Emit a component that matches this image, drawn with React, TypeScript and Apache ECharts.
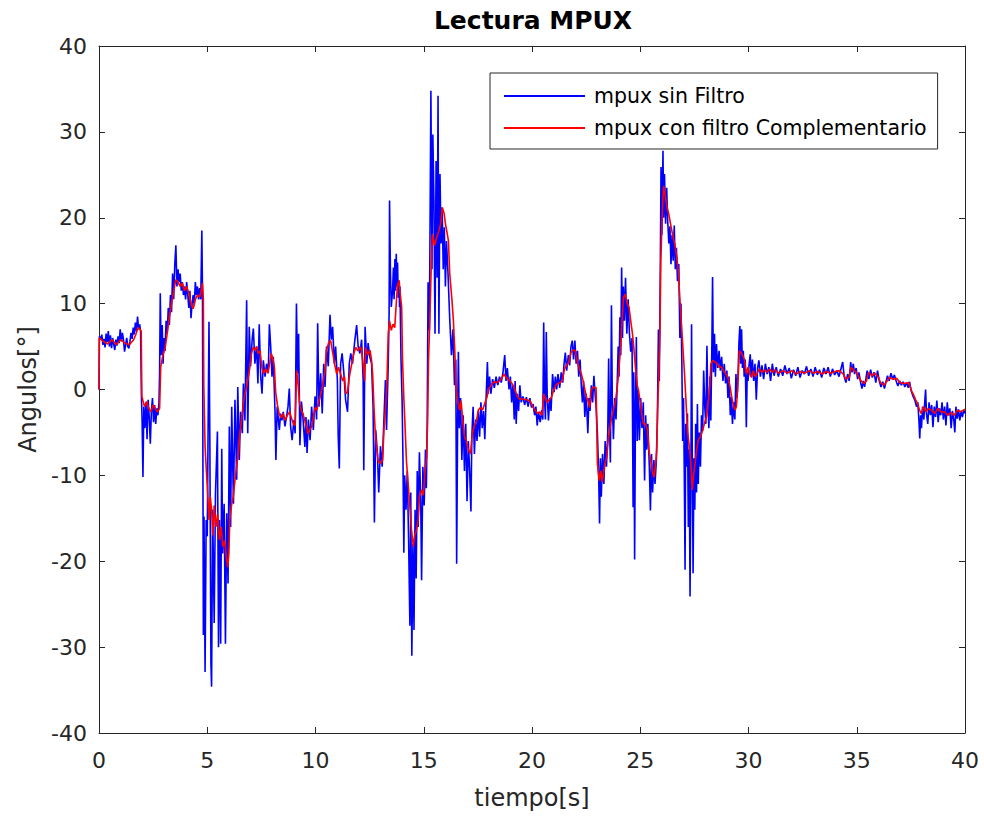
import React, { useEffect, useRef } from "react";
import * as echarts from "echarts";

const TITLE = "Lectura MPUX";
const X_NAME = "tiempo[s]";
const Y_NAME = "Angulos[°]";
const SERIES_NAMES = ["mpux sin Filtro", "mpux con filtro Complementario"];
const X_MIN = 0, X_MAX = 40, X_STEP = 5;
const Y_MIN = -40, Y_MAX = 40, Y_STEP = 10;

// mpux sin Filtro: [tiempo, angulo]
const blueRaw: number[][] = [
  [0,0],[0.02,6.2],[0.08,5.8],[0.13,6.4],[0.18,5.2],[0.23,5.9],[0.28,4.9],[0.33,6.5],[0.38,5.5],[0.43,6.8],[0.48,5.0],[0.53,6.3],[0.58,4.8],[0.63,6.0],[0.68,5.3],[0.73,4.6],[0.78,5.8],[0.83,5.1],[0.88,6.2],[0.93,5.4],[0.98,7.0],[1.03,5.6],[1.08,6.6],[1.13,5.8],[1.18,4.4],[1.23,5.2],[1.28,6.0],[1.33,5.0],[1.38,4.8],[1.43,5.6],[1.48,6.6],[1.53,5.9],[1.58,7.2],[1.63,6.4],[1.68,7.8],[1.73,6.8],[1.78,8.5],[1.83,7.0],[1.88,7.6],[1.92,6.8],
  [1.96,-0.8],[1.99,-3.5],[2.03,-10.2],[2.07,-2.0],[2.12,-4.5],[2.17,-1.5],[2.22,-5.8],[2.27,-1.2],[2.32,-3.2],[2.37,-6.3],[2.42,-2.5],[2.47,-1.0],[2.52,-3.8],[2.57,-1.8],[2.62,-4.0],[2.67,-2.2],[2.72,-3.0],[2.77,-1.6],
  [2.8,2.0],[2.83,11.2],[2.87,4.0],[2.92,7.5],[2.96,3.0],[3.0,6.0],[3.05,4.5],[3.1,8.0],[3.15,6.5],[3.2,9.5],[3.25,7.5],[3.3,11.0],[3.35,9.0],[3.4,13.5],[3.45,10.5],[3.5,14.5],[3.55,16.8],[3.6,12.0],[3.65,14.0],[3.7,12.5],[3.75,13.5],[3.8,11.5],[3.85,12.5],[3.9,11.0],[3.95,12.0],[4.0,10.5],[4.05,12.5],[4.1,11.0],[4.15,9.5],[4.2,11.5],[4.25,8.3],[4.3,10.0],[4.35,11.0],[4.4,9.8],[4.45,12.5],[4.5,11.0],[4.55,12.0],[4.6,10.5],[4.65,11.8],[4.7,10.5],[4.75,18.5],[4.78,11.4],
  [4.82,-28.6],[4.85,-14.8],[4.9,-32.9],[4.95,-15.2],[5.0,-17.1],[5.08,7.9],[5.12,-5.9],[5.17,-31.9],[5.2,-34.6],[5.25,-14.0],[5.32,-27.2],[5.38,-12.1],[5.47,-4.9],[5.52,-30.0],[5.56,-15.2],[5.62,-29.6],[5.67,-6.9],[5.71,-19.1],[5.78,-13.3],[5.84,-29.6],[5.9,-14.4],[5.96,-22.6],[6.02,-4.3],[6.08,-16.0],[6.13,-2.0],[6.21,-13.3],[6.28,-1.2],[6.36,-10.5],[6.41,0.3],[6.48,-8.2],[6.54,-2.6],[6.62,-5.1],[6.67,0.7],[6.74,-3.6],[6.82,10.4],[6.87,-5.1],[6.94,7.3],[7.0,2.7],[7.08,6.0],[7.13,7.1],[7.2,3.0],[7.28,5.0],[7.34,0.7],[7.4,7.6],[7.47,1.5],[7.53,-0.5],[7.59,3.4],[7.67,1.5],[7.74,3.0],[7.82,1.9],[7.87,7.6],[7.93,5.0],[7.99,1.5],[8.05,3.8],[8.13,-2.6],[8.17,-8.2],[8.23,-2.0],[8.33,-4.7],[8.39,-2.8],[8.45,-3.6],[8.51,-2.6],[8.59,-4.3],[8.66,-3.2],[8.73,-2.0],[8.79,0.1],[8.85,-4.3],[8.92,-5.9],[9.0,-3.6],[9.06,-5.1],[9.12,10.0],[9.17,1.9],[9.22,6.5],[9.28,-6.5],[9.35,-1.4],[9.43,-3.6],[9.51,-6.7],[9.56,-3.2],
  [9.61,-7.4],[9.67,-3.5],[9.75,-5.9],[9.82,-2.0],[9.9,-4.7],[9.98,-0.8],[10.05,-3.5],[10.1,7.7],[10.16,-2.0],[10.24,1.9],[10.31,-2.8],[10.38,3.0],[10.44,0.3],[10.51,5.0],[10.59,2.7],[10.67,8.7],[10.73,5.8],[10.79,7.3],[10.87,3.0],[10.93,5.0],[11.01,1.1],[11.05,-5.5],[11.1,-9.2],[11.16,3.0],[11.23,4.2],[11.31,1.9],[11.39,-1.2],[11.48,-2.6],[11.56,3.0],[11.63,4.2],[11.71,3.0],[11.82,5.8],[11.9,7.5],[11.97,5.0],[12.05,4.2],[12.13,5.8],[12.2,1.1],[12.23,-9.4],[12.29,7.3],[12.37,3.0],[12.43,5.4],[12.51,3.8],[12.59,3.0],[12.66,-2.0],[12.72,-15.5],[12.78,-4.7],[12.86,-7.4],[12.92,-12.0],[13.0,-6.6],[13.08,-9.0],[13.16,-3.5],[13.23,1.1],[13.28,-4.7],[13.36,3.0],
  [13.4,8.9],[13.42,22.0],[13.46,13.8],[13.5,9.6],[13.56,11.5],[13.6,14.2],[13.63,10.5],[13.67,15.2],[13.7,11.5],[13.73,15.8],[13.76,12.0],[13.79,14.8],[13.82,10.7],[13.86,12.7],[13.88,9.6],[13.9,12.0],
  [13.95,3.4],[14.0,-1.3],[14.04,-8.0],[14.08,-19.0],[14.12,-10.0],[14.18,-14.0],[14.24,-9.5],[14.3,-17.5],[14.36,-27.5],[14.4,-12.0],[14.45,-31.0],[14.5,-18.0],[14.55,-28.0],[14.6,-14.0],[14.65,-22.0],[14.7,-9.5],[14.74,-16.0],[14.8,-7.3],[14.86,-13.0],[14.9,-22.2],[14.96,-9.0],[15.02,-13.5],[15.08,-7.0],[15.12,-11.5],[15.16,-4.0],
  [15.2,12.5],[15.26,6.9],[15.33,34.8],[15.38,14.0],[15.42,29.7],[15.47,22.0],[15.52,6.5],[15.57,26.6],[15.62,13.0],[15.66,34.2],[15.7,6.5],[15.75,25.1],[15.8,17.0],[15.85,21.2],[15.9,14.0],[15.95,18.9],[16.0,12.0],[16.05,17.3],[16.12,13.5],[16.2,8.2],
  [16.28,4.0],[16.35,7.0],[16.42,0.5],[16.48,3.5],[16.52,-20.3],[16.57,-2.0],[16.6,4.4],[16.64,-4.5],[16.7,-1.0],[16.76,-8.2],[16.82,-3.0],[16.88,-9.5],[16.94,-4.0],[17.0,-13.0],[17.06,-6.0],[17.12,-9.5],[17.18,-14.2],[17.22,-5.5],[17.28,-2.0],[17.34,-7.5],[17.4,-3.5],[17.46,-6.0],[17.52,-2.5],[17.58,-5.5],[17.64,-1.5],[17.7,-4.5],[17.76,-2.5],[17.82,-5.8],[17.88,-1.0],[17.94,3.2],[17.98,-0.5],[18.04,1.5],[18.1,-0.5],[18.18,1.2],[18.26,0.2],[18.34,1.5],[18.42,0.5],[18.5,1.5],[18.58,0.8],[18.66,2.0],[18.74,4.0],[18.8,1.0],[18.86,2.5],[18.94,0.0],[19.0,1.5],[19.06,-1.5],[19.12,0.5],[19.18,-3.5],
  [19.22,1.0],[19.27,-4.0],[19.32,-0.5],[19.38,-2.5],[19.44,0.5],[19.5,-1.5],[19.58,-0.8],[19.66,-1.8],[19.74,-0.9],[19.82,-2.0],[19.9,-1.0],[19.98,-2.1],[20.05,-1.7],[20.12,-3.0],[20.18,-2.0],[20.24,-4.2],[20.3,-2.6],[20.38,-3.8],[20.45,-2.4],[20.5,-3.5],[20.54,7.8],[20.58,-1.0],[20.62,-3.5],[20.66,6.7],[20.7,-0.5],[20.76,-3.6],[20.82,-1.0],[20.88,-2.5],[20.95,1.8],[21.02,-0.3],[21.08,1.5],[21.14,0.0],[21.2,1.8],[21.28,0.2],[21.35,2.0],[21.42,0.8],[21.48,3.0],[21.54,4.3],[21.6,2.2],[21.68,4.0],[21.74,2.8],[21.8,5.0],[21.86,5.7],[21.92,3.5],[21.98,5.7],[22.04,3.0],[22.1,4.5],[22.16,1.5],[22.22,3.5],[22.28,0.3],[22.33,-1.5],[22.38,1.0],[22.44,-3.2],[22.5,-0.5],[22.58,-5.1],[22.63,-1.0],[22.68,-2.5],[22.74,0.5],[22.8,-1.5],[22.86,1.6],[22.9,0.0],[22.96,-2.0],[23.02,-5.0],[23.08,-10.0],[23.12,-15.6],[23.16,-8.0],[23.2,-12.5],[23.26,-7.5],[23.32,-11.0],[23.38,-6.0],[23.44,-9.0],[23.5,-5.0],[23.54,3.6],[23.58,-4.0],[23.62,-8.5],[23.67,9.8],[23.71,-1.5],[23.76,-5.8],[23.82,-1.0],[23.88,-3.5],[23.94,1.0],[23.98,5.0],[24.02,1.5],[24.06,8.4],[24.1,4.0],
  [24.14,14.2],[24.18,6.0],[24.22,12.0],[24.27,8.0],[24.32,13.0],[24.38,6.5],[24.44,10.5],[24.5,6.5],[24.56,4.4],[24.62,6.0],[24.67,-13.7],[24.7,2.0],[24.74,-19.8],[24.78,-2.0],[24.82,6.1],[24.86,-6.0],[24.9,0.0],[24.96,-5.9],[25.02,-1.0],[25.08,-4.5],[25.14,-1.5],[25.2,-10.6],[25.25,-3.0],[25.3,-7.0],[25.35,-4.0],[25.42,-9.0],[25.47,-14.1],[25.52,-7.5],[25.57,-12.0],[25.63,-8.2],[25.68,-11.0],[25.74,-8.5],[25.79,-3.6],[25.84,7.0],[25.88,1.0],[25.93,15.4],[25.96,25.9],[26.0,18.0],[26.05,27.8],[26.08,20.0],[26.12,25.1],[26.17,19.3],[26.22,23.5],[26.27,19.5],[26.32,17.0],[26.37,19.0],[26.42,14.6],[26.47,18.0],[26.52,15.0],[26.57,19.1],[26.62,14.0],[26.67,16.5],[26.72,12.6],[26.78,14.6],[26.83,6.0],[26.88,10.0],[26.92,3.4],[26.96,-6.0],[27.0,-1.0],[27.04,-11.4],[27.07,-21.0],[27.1,-4.0],[27.14,-9.0],[27.18,-2.8],[27.22,-16.0],[27.26,-7.0],[27.3,-24.1],[27.34,-10.0],[27.37,7.6],[27.4,-6.0],[27.44,-21.4],[27.48,-8.0],[27.52,-14.0],[27.56,-4.0],[27.6,-12.0],[27.64,-1.7],[27.68,-11.0],[27.73,-5.0],[27.78,-9.0],[27.83,-3.0],[27.88,-4.8],[27.93,2.2],[27.98,-2.0],[28.03,-4.0],[28.08,5.1],[28.12,-1.0],[28.17,-4.5],[28.22,1.5],[28.26,-3.6],[28.31,5.5],[28.34,13.1],[28.38,2.0],[28.43,6.5],[28.47,1.5],[28.52,5.3],[28.58,2.5],[28.64,4.5],[28.7,2.2],[28.76,3.8],[28.82,1.0],[28.88,3.0],[28.94,0.7],[29.0,2.2],[29.05,-1.0],[29.1,1.5],
  [29.16,-3.0],[29.2,-0.9],[29.26,-4.0],[29.32,-1.5],[29.37,-3.5],[29.42,1.8],[29.47,-1.0],[29.52,2.0],[29.56,5.5],[29.6,7.4],[29.64,3.0],[29.68,7.0],[29.72,2.5],[29.76,4.5],[29.8,1.5],[29.85,3.5],[29.9,-4.4],[29.94,2.0],[29.98,1.0],[30.03,3.0],[30.08,4.1],[30.12,1.5],[30.18,3.5],[30.24,1.0],[30.3,3.0],[30.36,-1.2],[30.42,2.5],[30.48,3.4],[30.55,1.5],[30.62,2.8],[30.7,1.2],[30.78,3.0],[30.86,1.8],[30.94,2.6],[31.02,1.0],[31.1,3.0],[31.18,1.6],[31.28,2.6],[31.38,1.5],[31.48,2.4],[31.58,1.6],[31.68,2.8],[31.78,1.8],[31.88,2.5],[31.98,1.3],[32.08,2.3],[32.18,1.6],[32.28,2.6],[32.38,1.4],[32.48,2.2],[32.58,1.8],[32.68,2.7],[32.78,1.6],[32.88,2.4],[32.98,1.5],[33.08,2.6],[33.18,1.7],[33.28,2.3],[33.38,1.4],[33.48,2.5],[33.58,1.8],[33.68,2.6],[33.78,1.5],[33.88,2.4],[33.98,1.7],
  [34.08,2.2],[34.18,1.5],[34.26,2.3],[34.35,3.2],[34.42,1.5],[34.5,0.8],[34.58,1.8],[34.65,1.0],[34.72,3.2],[34.78,2.0],[34.84,3.0],[34.9,1.8],[34.97,2.5],[35.04,1.2],[35.1,2.0],[35.18,0.8],[35.24,0.1],[35.3,1.0],[35.36,0.3],[35.42,1.2],[35.48,2.2],[35.56,1.2],[35.64,2.3],[35.72,1.4],[35.8,2.0],[35.88,0.8],[35.96,2.2],[36.04,1.0],[36.12,0.3],[36.2,0.9],[36.28,0.1],[36.34,0.8],[36.42,1.6],[36.5,1.0],[36.58,1.9],[36.66,1.2],[36.74,1.7],[36.82,1.0],[36.9,0.4],[36.98,1.0],[37.06,0.5],[37.14,0.9],[37.22,0.3],[37.3,0.8],[37.38,0.2],[37.44,0.9],[37.52,-0.2],[37.6,-0.8],[37.68,-1.2],[37.76,-2.0],[37.82,-1.5],[37.87,-3.5],[37.91,-5.7],[37.95,-3.0],[37.99,-4.5],[38.04,-2.0],[38.1,-3.5],[38.14,-1.5],[38.18,0.0],[38.22,-2.8],[38.28,-4.0],[38.34,-1.5],[38.4,-3.0],[38.46,-1.8],[38.52,-4.4],[38.58,-2.0],[38.64,-3.2],[38.7,-1.3],[38.76,-3.8],[38.82,-2.2],[38.88,-3.0],[38.94,-1.5],[39.0,-3.5],[39.06,-2.0],[39.12,-4.2],[39.18,-1.5],[39.24,-3.0],[39.3,-2.2],[39.36,-4.5],[39.42,-2.5],[39.48,-3.5],[39.53,-5.0],[39.58,-2.0],[39.64,-3.4],[39.7,-2.3],[39.76,-3.6],[39.82,-2.5],[39.88,-3.2],[39.94,-2.4],[40.0,-2.8]
];

// mpux con filtro Complementario: [tiempo, angulo]
const redRaw: number[][] = [
  [0,0],[0.01,6.0],[0.2,5.6],[0.4,5.3],[0.6,5.8],[0.8,5.2],[1.0,5.8],[1.2,5.4],[1.4,5.2],[1.6,5.8],[1.7,6.4],[1.8,7.2],[1.9,7.0],[1.95,6.8],[1.98,-0.8],[2.1,-2.0],[2.2,-1.4],[2.3,-2.2],[2.4,-2.6],[2.5,-1.8],[2.6,-2.2],[2.7,-2.6],[2.8,-2.2],[2.85,2.6],[2.95,4.0],[3.05,4.8],[3.15,6.5],[3.25,8.5],[3.35,10.0],[3.45,11.5],[3.55,12.8],[3.65,12.5],[3.75,12.0],[3.85,12.4],[3.95,11.5],[4.05,12.0],[4.15,11.2],[4.25,10.0],[4.35,9.4],[4.45,10.5],[4.55,11.0],[4.65,10.8],[4.72,11.5],[4.78,12.4],[4.82,10.5],
  [4.84,0.5],[4.9,-6.7],[4.96,-9.5],[5.02,-12.0],[5.08,-15.2],[5.14,-12.5],[5.2,-14.0],[5.26,-17.0],[5.32,-13.5],[5.4,-16.0],[5.48,-14.5],[5.56,-17.5],[5.64,-16.0],[5.72,-18.3],[5.8,-17.6],[5.88,-19.5],[5.95,-20.7],[6.0,-19.0],[6.04,-15.2],[6.12,-13.5],[6.2,-12.5],[6.28,-10.6],[6.36,-8.8],[6.44,-7.5],[6.5,-5.2],[6.58,-3.6],[6.66,-1.7],[6.74,-0.5],[6.82,0.3],[6.9,1.5],[6.97,2.6],[7.04,4.2],[7.12,4.9],[7.2,4.6],[7.28,5.0],[7.36,4.2],[7.44,4.5],[7.52,2.6],[7.6,1.8],[7.7,2.4],[7.8,1.9],[7.88,3.0],[7.96,4.2],[8.04,3.5],[8.1,2.6],[8.16,-0.3],[8.24,-1.8],[8.32,-2.8],[8.42,-3.3],[8.5,-2.8],[8.6,-3.6],[8.7,-3.0],[8.8,-2.6],[8.9,-3.4],[8.98,-4.0],[9.06,-4.2],[9.13,2.2],[9.2,0.5],[9.26,-1.5],[9.34,-2.4],[9.42,-2.8],[9.5,-3.6],[9.58,-4.4],[9.66,-5.2],[9.74,-4.6],
  [9.82,-4.4],[9.9,-3.2],[9.98,-2.1],[10.06,-2.4],[10.14,-1.5],[10.21,-0.9],[10.28,-0.1],[10.36,1.0],[10.44,2.2],[10.5,4.5],[10.6,5.4],[10.7,5.7],[10.78,4.5],[10.88,3.0],[10.98,1.8],[11.06,2.6],[11.16,1.8],[11.26,1.0],[11.34,1.5],[11.4,-0.5],[11.48,-0.3],[11.56,1.4],[11.66,2.8],[11.76,4.1],[11.86,4.9],[11.96,4.5],[12.06,5.0],[12.13,4.5],[12.2,3.0],[12.27,1.0],[12.32,4.9],[12.42,4.0],[12.52,4.6],[12.59,3.4],[12.64,1.8],[12.7,-2.0],[12.76,-5.0],[12.82,-6.7],[12.9,-8.4],[13.0,-8.6],[13.1,-8.2],[13.16,-4.8],[13.24,-2.0],[13.3,1.0],
  [13.36,6.5],[13.42,8.0],[13.5,6.9],[13.58,7.6],[13.66,7.2],[13.72,9.6],[13.78,12.0],[13.86,12.7],[13.92,11.0],[13.98,9.6],[14.02,3.4],[14.08,-1.0],[14.14,-4.5],[14.2,-8.3],[14.28,-11.0],[14.36,-13.7],[14.44,-16.5],[14.52,-18.3],[14.58,-17.0],[14.66,-16.4],[14.74,-15.2],[14.8,-12.5],[14.9,-11.7],[14.98,-12.3],[15.06,-9.5],[15.13,-7.9],[15.18,-3.6],[15.22,3.4],[15.28,8.0],[15.34,13.8],[15.4,18.1],[15.5,16.8],[15.6,17.7],[15.7,18.5],[15.78,19.3],[15.86,21.2],[15.94,20.5],[16.0,19.3],[16.08,18.2],[16.14,17.3],[16.2,13.5],[16.3,10.5],[16.37,8.0],
  [16.44,4.1],[16.5,-0.1],[16.58,-1.5],[16.66,-2.4],[16.72,-1.3],[16.8,-3.5],[16.88,-5.5],[16.96,-5.9],[17.06,-7.0],[17.16,-7.5],[17.24,-5.2],[17.34,-4.2],[17.44,-3.6],[17.52,-2.4],[17.62,-2.1],[17.72,-2.4],[17.82,-1.6],[17.92,-0.9],[18.0,0.1],[18.12,0.5],[18.24,0.9],[18.36,0.8],[18.5,1.0],[18.6,1.3],[18.7,1.8],[18.78,1.5],[18.88,1.2],[18.98,1.0],[19.1,0.6],[19.2,0.1],
  [19.3,-0.7],[19.42,-1.1],[19.6,-1.1],[19.75,-1.2],[19.9,-1.3],[20.02,-1.9],[20.14,-2.4],[20.26,-2.8],[20.36,-2.6],[20.46,-3.0],[20.54,-0.5],[20.6,-1.0],[20.7,-1.5],[20.8,-1.2],[20.9,-0.9],[21.0,-0.1],[21.1,0.5],[21.2,0.7],[21.3,0.8],[21.4,1.0],[21.5,2.4],[21.6,2.8],[21.7,3.2],[21.8,4.3],[21.9,4.6],[22.0,4.5],[22.08,3.4],[22.18,2.5],[22.28,1.8],[22.36,1.0],[22.44,0.0],[22.52,-0.9],[22.58,-1.3],[22.66,-2.1],[22.72,-0.1],[22.84,0.3],[22.96,0.2],[23.02,-8.6],[23.1,-10.6],[23.18,-9.5],[23.24,-10.8],[23.3,-9.8],[23.38,-8.5],[23.45,-7.9],[23.52,-5.9],[23.6,-4.5],[23.68,-3.2],[23.76,-2.4],[23.86,-1.3],[23.94,0.3],[24.02,2.5],[24.1,5.3],[24.16,8.0],[24.22,10.7],
  [24.3,11.1],[24.4,10.0],[24.48,9.6],[24.56,8.0],[24.64,6.5],[24.7,4.9],[24.78,2.5],[24.86,0.5],[24.92,-0.1],[25.0,-1.5],[25.08,-3.0],[25.14,-4.0],[25.24,-4.0],[25.34,-4.8],[25.4,-7.1],[25.5,-8.5],[25.58,-9.8],[25.64,-10.2],[25.72,-8.5],[25.76,-7.1],[25.8,-2.8],[25.86,2.0],[25.91,6.5],[25.95,15.0],[26.0,19.0],[26.04,22.0],[26.08,23.7],[26.16,22.5],[26.24,21.2],[26.32,20.4],[26.42,19.0],[26.52,17.7],[26.6,16.9],[26.68,15.5],[26.76,13.8],[26.82,11.0],[26.9,7.6],[26.96,5.3],[27.04,2.0],[27.12,-1.7],[27.18,-4.8],[27.26,-6.5],[27.34,-8.6],[27.4,-11.7],[27.46,-10.0],[27.54,-8.5],[27.6,-7.1],[27.68,-5.9],[27.78,-5.5],[27.88,-4.8],[27.98,-3.8],[28.06,-3.2],[28.12,-2.1],[28.18,-0.5],[28.22,0.7],[28.26,3.0],[28.36,3.4],[28.45,3.2],[28.55,3.0],[28.65,2.6],[28.75,2.6],[28.85,2.2],[28.95,1.8],[29.05,1.4],[29.15,0.3],
  [29.22,-0.8],[29.3,-1.8],[29.38,-2.4],[29.44,-2.0],[29.5,0.0],[29.53,1.8],[29.58,4.5],[29.68,4.2],[29.76,3.8],[29.82,3.4],[29.9,1.8],[29.98,2.6],[30.06,1.8],[30.14,1.4],[30.22,2.2],[30.3,1.5],[30.38,1.8],[30.5,2.4],[30.62,2.0],[30.74,2.3],[30.86,2.0],[30.98,2.4],[31.1,2.0],[31.22,2.3],[31.4,1.9],[31.6,2.2],[31.8,1.9],[32.0,2.2],[32.2,1.8],[32.4,2.1],[32.6,1.9],[32.8,2.2],[33.0,1.9],[33.2,2.1],[33.4,1.8],[33.6,2.1],[33.8,1.9],[34.0,2.1],
  [34.2,2.2],[34.38,1.8],[34.5,1.2],[34.66,1.5],[34.74,2.6],[34.88,2.2],[34.98,2.0],[35.1,1.4],[35.2,1.0],[35.34,0.7],[35.45,1.0],[35.55,2.0],[35.7,1.6],[35.85,1.9],[36.0,1.4],[36.1,0.8],[36.25,0.5],[36.38,0.9],[36.5,1.4],[36.7,1.2],[36.84,1.3],[37.0,0.8],[37.2,0.7],[37.4,0.8],[37.52,-0.1],[37.62,-0.6],[37.72,-1.2],[37.82,-1.7],[37.9,-2.4],[37.98,-2.8],[38.08,-2.0],[38.2,-2.6],[38.3,-2.2],[38.45,-2.4],[38.6,-2.8],[38.75,-2.2],[38.9,-2.6],[39.05,-2.6],[39.2,-3.0],[39.35,-2.7],[39.5,-3.0],[39.65,-2.4],[39.8,-2.6],[40.0,-2.3]
];

const FONT = "DejaVu Sans";
const AXIS_COLOR = "#262626";

export default function App() {
  const ref = useRef<HTMLDivElement>(null);

  useEffect(() => {
    if (!ref.current) return;
    const chart = echarts.init(ref.current, undefined, { renderer: "svg" });

    const baseX = {
      type: "value" as const,
      min: X_MIN,
      max: X_MAX,
      interval: X_STEP,
      splitLine: { show: false },
      axisLine: { show: true, onZero: false, lineStyle: { color: AXIS_COLOR, width: 1 } },
      axisTick: { show: true, inside: true, length: 6, lineStyle: { color: AXIS_COLOR } },
    };
    const baseY = {
      type: "value" as const,
      min: Y_MIN,
      max: Y_MAX,
      interval: Y_STEP,
      splitLine: { show: false },
      axisLine: { show: true, onZero: false, lineStyle: { color: AXIS_COLOR, width: 1 } },
      axisTick: { show: true, inside: true, length: 6, lineStyle: { color: AXIS_COLOR } },
    };

    chart.setOption({
      animation: false,
      backgroundColor: "#ffffff",
      title: {
        text: TITLE,
        left: 533,
        textAlign: "center",
        top: 8,
        padding: 0,
        textStyle: { fontFamily: FONT, fontSize: 25, fontWeight: "bold", color: "#000000" },
      },
      legend: {
        data: SERIES_NAMES,
        orient: "vertical",
        left: 490,
        top: 73,
        padding: [11, 11, 9, 14],
        itemGap: 8,
        itemWidth: 81,
        itemHeight: 2,
        icon: "rect",
        backgroundColor: "#ffffff",
        borderColor: AXIS_COLOR,
        borderWidth: 1,
        borderRadius: 0,
        textStyle: { fontFamily: FONT, fontSize: 20.5, color: "#000000", lineHeight: 24, padding: [0, 0, 0, 4] },
      },
      grid: { left: 99, top: 46, width: 866, height: 687, containLabel: false },
      xAxis: [
        {
          ...baseX,
          position: "bottom",
          name: X_NAME,
          nameLocation: "middle",
          nameGap: 53,
          nameTextStyle: { fontFamily: FONT, fontSize: 24, color: AXIS_COLOR },
          axisLabel: { fontFamily: FONT, fontSize: 22, color: AXIS_COLOR, margin: 16 },
        },
        { ...baseX, position: "top", axisLabel: { show: false } },
      ],
      yAxis: [
        {
          ...baseY,
          position: "left",
          name: Y_NAME,
          nameLocation: "middle",
          nameGap: 58,
          nameTextStyle: { fontFamily: FONT, fontSize: 24, color: AXIS_COLOR },
          axisLabel: { fontFamily: FONT, fontSize: 22, color: AXIS_COLOR, margin: 12 },
        },
        { ...baseY, position: "right", axisLabel: { show: false } },
      ],
      series: [
        {
          name: SERIES_NAMES[0],
          type: "line",
          data: blueRaw,
          showSymbol: false,
          symbol: "none",
          lineStyle: { color: "#0000ff", width: 1.6 },
          itemStyle: { color: "#0000ff" },
          z: 2,
        },
        {
          name: SERIES_NAMES[1],
          type: "line",
          data: redRaw,
          showSymbol: false,
          symbol: "none",
          lineStyle: { color: "#ff0000", width: 1.6 },
          itemStyle: { color: "#ff0000" },
          z: 3,
        },
      ],
    });

    return () => chart.dispose();
  }, []);

  return (
    <div
      ref={ref}
      style={{ position: "fixed", left: 0, top: 0, width: 984, height: 818, background: "#fff" }}
    />
  );
}
